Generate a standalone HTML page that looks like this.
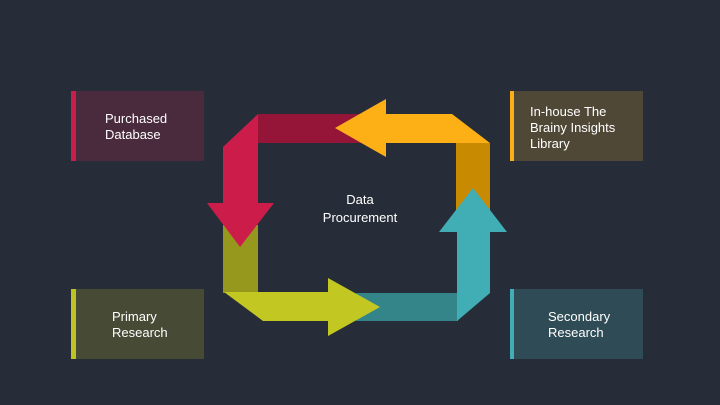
<!DOCTYPE html>
<html><head><style>
body{margin:0;width:720px;height:405px;background:#272d38;position:relative;overflow:hidden;font-family:"Liberation Sans","DejaVu Sans",sans-serif;}
.b{position:absolute;width:133px;height:70px;color:#fff;font-size:13px;line-height:16px;box-sizing:border-box;}
.b span{position:absolute;}
</style></head><body>
<div class="b" style="left:71px;top:91px;background:#4a2a3d;border-left:5px solid #c91d4a"><span style="left:29px;top:20px">Purchased<br>Database</span></div>
<div class="b" style="left:510px;top:91px;background:#4f4836;border-left:4px solid #fbb116"><span style="left:16px;top:13px">In-house The<br>Brainy Insights<br>Library</span></div>
<div class="b" style="left:71px;top:289px;background:#474b36;border-left:5px solid #bec321"><span style="left:36px;top:20px">Primary<br>Research</span></div>
<div class="b" style="left:510px;top:289px;background:#2f4b55;border-left:4px solid #41adb5"><span style="left:34px;top:20px">Secondary<br>Research</span></div>
<svg width="720" height="405" style="position:absolute;left:0;top:0">
<rect x="258" y="114" width="104" height="29" fill="#951538"/>
<rect x="223" y="225" width="35" height="68" fill="#95981c"/>
<polygon points="258,114 223,147 223,203 207,203 240,247 274,203 258,203" fill="#cc1d4a"/>
<rect x="456" y="143" width="34" height="67" fill="#c88a00"/>
<polygon points="335,128 386,99 386,114 452,114 490,143 386,143 386,157" fill="#fcb016"/>
<rect x="356" y="293" width="102" height="28" fill="#34858a"/>
<polygon points="224,292 328,292 328,278 380,307 328,336 328,321 263,321" fill="#c2c821"/>
<polygon points="473,188 507,232 490,232 490,293 457,321 457,232 439,232" fill="#41adb5"/>
<text x="360" y="204" fill="#fff" font-size="13" text-anchor="middle" font-family="Liberation Sans, sans-serif">Data</text>
<text x="360" y="222" fill="#fff" font-size="13" text-anchor="middle" font-family="Liberation Sans, sans-serif">Procurement</text>
</svg>
</body></html>
